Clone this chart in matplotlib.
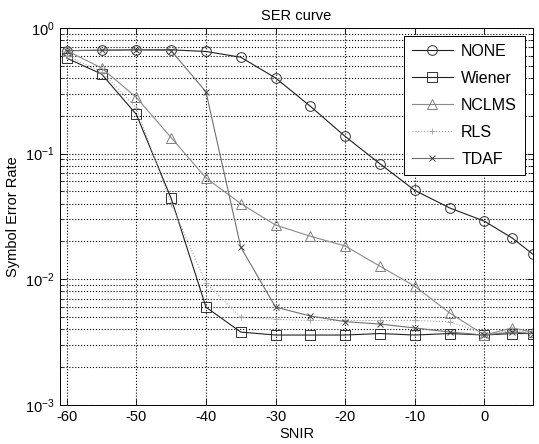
import matplotlib
matplotlib.use('Agg')
import matplotlib.pyplot as plt
from matplotlib.ticker import LogLocator, NullFormatter

plt.rcParams['font.family'] = ['Liberation Sans', 'DejaVu Sans']
plt.rcParams['axes.unicode_minus'] = False

# SNIR values (dB)
snir = [-60, -55, -50, -45, -40, -35, -30, -25, -20, -15, -10, -5, 0, 4, 7]

# symbol error rate per method
ser_none = [0.66, 0.665, 0.67, 0.67, 0.65, 0.585, 0.40, 0.238, 0.137, 0.083,
            0.051, 0.037, 0.029, 0.0213, 0.0158]
ser_wiener = [0.575, 0.43, 0.205, 0.044, 0.006, 0.0038, 0.0036, 0.0036, 0.0036,
              0.0037, 0.0036, 0.0037, 0.0036, 0.0037, 0.0037]
ser_nclms = [0.66, 0.48, 0.28, 0.134, 0.064, 0.040, 0.027, 0.022, 0.0184,
             0.0127, 0.0088, 0.0054, 0.0036, 0.0041, 0.0038]
ser_rls = [0.60, 0.45, 0.23, 0.040, 0.0093, 0.0050, 0.0048, 0.0047, 0.0047,
           0.0047, 0.0047, 0.0046, 0.0037, 0.0039, 0.0038]
ser_tdaf = [0.66, 0.665, 0.67, 0.66, 0.31, 0.018, 0.006, 0.0051, 0.0046,
            0.0044, 0.0041, 0.0038, 0.0036, 0.0038, 0.0037]

labels = ['NONE', 'Wiener', 'NCLMS', 'RLS', 'TDAF']

fig = plt.figure(figsize=(5.39, 4.44), dpi=100)
ax = fig.add_axes([0.111, 0.088, 0.878, 0.849])

ax.semilogy(snir, ser_none, color='#202020', lw=0.8, marker='o', ms=7,
            mfc='none', mec='#303030', mew=0.7, label=labels[0])
ax.semilogy(snir, ser_wiener, color='#202020', lw=0.8, marker='s', ms=7,
            mfc='none', mec='#303030', mew=0.7, label=labels[1])
ax.semilogy(snir, ser_nclms, color='#8a8a8a', lw=0.8, marker='^', ms=7,
            mfc='none', mec='#808080', mew=0.7, label=labels[2])
ax.semilogy(snir, ser_rls, color='#a0a0a0', lw=0.8, ls=':', marker='+', ms=5,
            mec='#a0a0a0', mew=0.6, label=labels[3])
ax.semilogy(snir, ser_tdaf, color='#707070', lw=0.8, marker='x', ms=4,
            mec='#404040', mew=0.7, label=labels[4])

ax.set_xlim(-61, 7)
ax.set_ylim(1e-3, 1)
ax.set_xticks([-60, -50, -40, -30, -20, -10, 0])
ax.yaxis.set_major_locator(LogLocator(base=10, numticks=10))
ax.yaxis.set_minor_locator(LogLocator(base=10, subs=range(2, 10), numticks=10))
ax.yaxis.set_minor_formatter(NullFormatter())

ax.grid(True, which='major', ls=':', color='black', lw=0.8)
ax.grid(True, which='minor', axis='y', ls=':', color='black', lw=0.8)
ax.tick_params(which='both', direction='in', top=True, right=True,
               labelsize=10.5, length=4, width=0.6)
ax.tick_params(which='minor', length=2)
for s in ax.spines.values():
    s.set_linewidth(0.7)

ax.set_xlabel('SNIR', fontsize=10.5, labelpad=2)
ax.set_ylabel('Symbol Error Rate', fontsize=10.5, labelpad=4)
ax.set_title('SER curve', fontsize=10.5, pad=6)

leg = ax.legend(loc='upper right', fontsize=11.5, fancybox=False,
                edgecolor='black', framealpha=1, handlelength=2.6,
                handletextpad=0.5, borderpad=0.5, labelspacing=0.75,
                borderaxespad=0.5)
leg.get_frame().set_linewidth(0.7)

fig.savefig('out.png', dpi=100)
